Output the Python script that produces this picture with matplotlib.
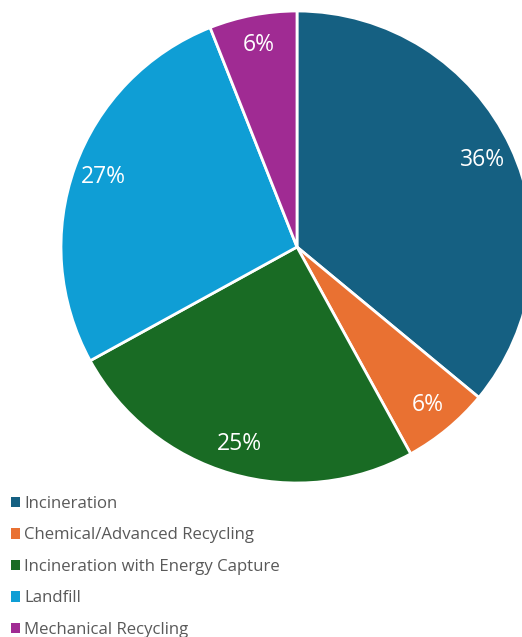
import matplotlib
matplotlib.use("Agg")
import matplotlib.pyplot as plt

categories = ["Incineration", "Chemical/Advanced Recycling", "Incineration with Energy Capture",
              "Landfill", "Mechanical Recycling"]
values = [36, 6, 25, 27, 6]
colors = ["#156082", "#E97132", "#196B24", "#0F9ED5", "#A02B93"]

plt.rcParams['font.family'] = ['Open Sans', 'DejaVu Sans']

W, H = 522, 637
fig = plt.figure(figsize=(W / 100, H / 100), dpi=100)
cx, cy, r = 297, 247, 236
ax = fig.add_axes([(cx - r) / W, (H - cy - r) / H, 2 * r / W, 2 * r / H])
wedges, texts, autotexts = ax.pie(
    values, colors=colors, startangle=90, counterclock=False,
    autopct=lambda p: f"{p:.0f}%", pctdistance=0.87,
    wedgeprops=dict(edgecolor="white", linewidth=2),
    textprops=dict(color="white", fontsize=16.5))
ax.set_xlim(-1, 1)
ax.set_ylim(-1, 1)
ax.axis("off")

leg = fig.legend(wedges, categories, loc="upper left",
                 bbox_to_anchor=(11 / W, 1 - 496 / H), frameon=False,
                 fontsize=12.1, labelcolor="#595959",
                 handlelength=0.55, handleheight=0.55, handletextpad=0.25,
                 labelspacing=0.92, borderaxespad=0, borderpad=0)
for h in leg.legend_handles:
    h.set_edgecolor("none")
    h.set_linewidth(0)

fig.savefig("out.png", dpi=100)
